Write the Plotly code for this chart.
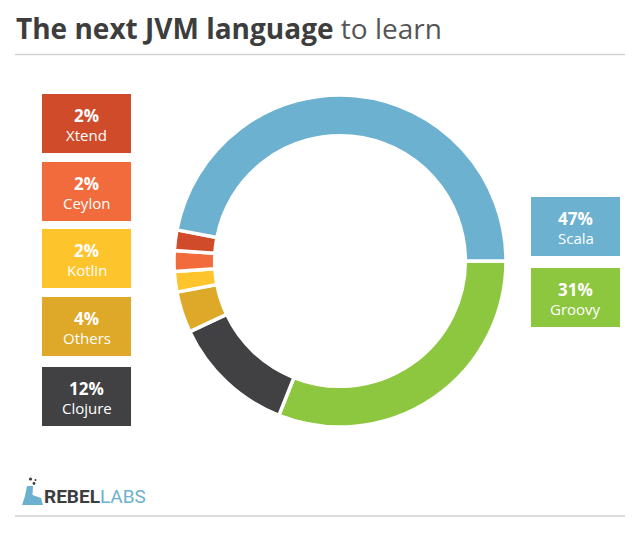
import plotly.graph_objects as go

# ---- data ----
languages = ["Scala", "Xtend", "Ceylon", "Kotlin", "Others", "Clojure", "Groovy"]
shares = [47, 2, 2, 2, 4, 12, 31]
colors = ["#6db1d0", "#cf4b2a", "#f26b3d", "#fec42b", "#dea829", "#414143", "#8dc63f"]

left_col = ["Xtend", "Ceylon", "Kotlin", "Others", "Clojure"]
right_col = ["Scala", "Groovy"]

W, H = 640, 536


def px(x):
    return x / W


def py(y):
    return 1 - y / H


# clockwise from 3 o'clock: Groovy first, Scala last (ends at 3 o'clock from above)
fig = go.Figure()
fig.add_trace(go.Pie(
    labels=languages[::-1],
    values=shares[::-1],
    sort=False,
    direction="clockwise",
    rotation=90,
    hole=0.755,
    marker=dict(colors=colors[::-1], line=dict(color="white", width=3.5)),
    textinfo="none",
    hoverinfo="label+percent",
    showlegend=False,
    domain=dict(x=[px(174), px(506)], y=[py(428), py(94)]),
))

shapes = []
annotations = []

cmap = dict(zip(languages, colors))
smap = dict(zip(languages, shares))

# legend boxes (layout, not data marks)
left_tops = [94, 162, 229, 297, 367]
right_tops = [197, 268]
box_h = 59


def add_box(name, x0, x1, top):
    shapes.append(dict(type="rect", xref="paper", yref="paper",
                       x0=px(x0), x1=px(x1), y0=py(top + box_h), y1=py(top),
                       fillcolor=cmap[name], line=dict(width=0), layer="below"))
    cx = px((x0 + x1) / 2)
    annotations.append(dict(x=cx, y=py(top + 21), xref="paper", yref="paper",
                            text=f"<b>{smap[name]}%</b>", showarrow=False,
                            xanchor="center", yanchor="middle",
                            font=dict(family="Open Sans", size=17, color="white")))
    annotations.append(dict(x=cx, y=py(top + 41), xref="paper", yref="paper",
                            text=name, showarrow=False,
                            xanchor="center", yanchor="middle",
                            font=dict(family="Open Sans", size=15, color="white")))


for name, t in zip(left_col, left_tops):
    add_box(name, 42, 131, t)
for name, t in zip(right_col, right_tops):
    add_box(name, 531, 620, t)

# title
annotations.append(dict(x=px(14), y=py(28), xref="paper", yref="paper",
                        text="<b>The next JVM language</b> <span style='color:#555555'>to learn</span>",
                        showarrow=False, xanchor="left", yanchor="middle",
                        font=dict(family="Open Sans", size=28, color="#3d3d3d")))

# rules
for yy in (54.5, 516):
    shapes.append(dict(type="line", xref="paper", yref="paper",
                       x0=px(15), x1=px(625), y0=py(yy), y1=py(yy),
                       line=dict(color="#d2d2d2", width=1.5)))

# logo
flask = [(27, 486), (33, 486), (32.5, 495), (41, 498), (43, 505), (22, 505), (25, 496)]
path = "M " + " L ".join(f"{px(a)},{py(b)}" for a, b in flask) + " Z"
shapes.append(dict(type="path", xref="paper", yref="paper", path=path,
                   fillcolor="#6db1d0", line=dict(width=0)))
for (dx, dy, r) in [(30.5, 479, 1.6), (34, 483.5, 1.4), (35.5, 480, 1.0)]:
    shapes.append(dict(type="circle", xref="paper", yref="paper",
                       x0=px(dx - r), x1=px(dx + r), y0=py(dy + r), y1=py(dy - r),
                       fillcolor="#3d3d3d", line=dict(width=0)))
annotations.append(dict(x=px(42), y=py(496), xref="paper", yref="paper",
                        text="<b>REBEL</b><span style='color:#6db1d0'>LABS</span>",
                        showarrow=False, xanchor="left", yanchor="middle",
                        font=dict(family="Roboto", size=19, color="#3d3d3d")))

fig.update_layout(
    width=W, height=H,
    margin=dict(l=0, r=0, t=0, b=0),
    paper_bgcolor="white", plot_bgcolor="white",
    shapes=shapes, annotations=annotations,
)

fig.write_html("out.html")
